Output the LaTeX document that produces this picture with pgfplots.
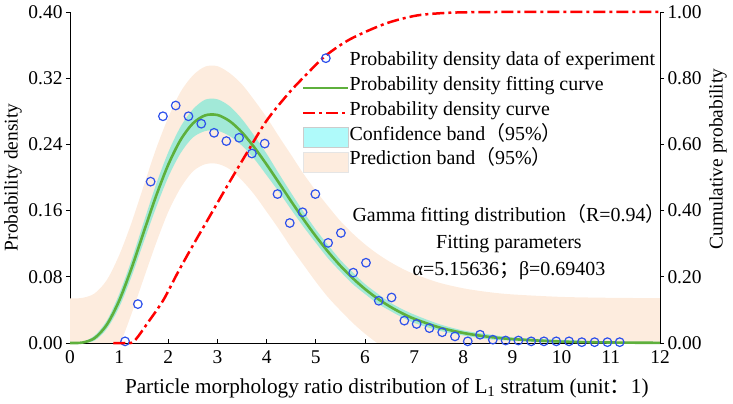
\documentclass[border=0pt]{standalone}
\usepackage{fontspec}
\setmainfont{Liberation Serif}
\newfontfamily\cjk{Noto Sans CJK SC}
\usepackage{pgfplots}
\pgfplotsset{compat=1.18}
\usepackage{pgfplotstable}
\usepgfplotslibrary{fillbetween}

\definecolor{peach}{RGB}{253,236,222}
\definecolor{mint}{RGB}{162,233,216}
\definecolor{cyanbox}{RGB}{175,250,250}
\definecolor{fitgreen}{RGB}{94,176,60}
\definecolor{ptblue}{RGB}{45,80,235}
\definecolor{cdfred}{RGB}{255,0,0}

\newcommand{\f}{\fontsize{19.5}{23}\selectfont}
\newcommand{\fl}{\fontsize{20}{23}\selectfont}

\pgfplotstableread{
x f cu cl pu pl
0 0 0.001 0 0.054 -0.054
0.25 0.0005 0.0015 0 0.0545 -0.0535
0.5 0.0059 0.0089 0.0029 0.0599 -0.048
0.75 0.0222 0.0272 0.0172 0.0762 -0.0318
1.0 0.0511 0.0591 0.0431 0.1061 -0.0039
1.25 0.0901 0.1001 0.0801 0.1451 0.0351
1.5 0.1341 0.1461 0.1221 0.1901 0.0781
1.75 0.1775 0.1915 0.1635 0.2345 0.1205
2.0 0.2157 0.2307 0.2007 0.2727 0.1587
2.25 0.2455 0.2615 0.2295 0.3035 0.1875
2.5 0.2654 0.2824 0.2484 0.3234 0.2074
2.75 0.2751 0.2941 0.2561 0.3341 0.2161
3.0 0.2755 0.2945 0.2565 0.3345 0.2165
3.25 0.2680 0.2860 0.2500 0.3260 0.2100
3.5 0.2544 0.2704 0.2384 0.3124 0.1964
3.75 0.2363 0.2503 0.2223 0.2933 0.1793
4.0 0.2156 0.2286 0.2026 0.2726 0.1586
4.25 0.1935 0.2045 0.1825 0.2495 0.1375
4.5 0.1711 0.1811 0.1611 0.2271 0.1151
4.75 0.1494 0.1584 0.1404 0.2044 0.0944
5.0 0.1290 0.1370 0.1210 0.1840 0.0740
5.25 0.1102 0.1182 0.1022 0.1652 0.0552
5.5 0.0933 0.1003 0.0863 0.1473 0.0393
5.75 0.0783 0.0853 0.0713 0.1323 0.0243
6.0 0.0652 0.0712 0.0592 0.1192 0.0112
6.25 0.0539 0.0599 0.0479 0.1079 -0.0001
6.5 0.0443 0.0493 0.0393 0.0983 -0.0097
6.75 0.0361 0.0411 0.0311 0.0901 -0.0179
7.0 0.0293 0.0343 0.0243 0.0833 -0.0247
7.5 0.0190 0.0230 0.0150 0.0730 -0.035
8.0 0.0121 0.0151 0.0091 0.0661 -0.042
8.5 0.0076 0.0106 0.0046 0.0616 -0.046
9 0.0047 0.0067 0.0027 0.0587 -0.049
10 0.0017 0.0037 0 0.0557 -0.052
11 0.0006 0.0016 0 0.0546 -0.053
12 0.0002 0.0012 0 0.0542 -0.054
}\bandtable

\pgfplotstableread{
x y
1.12 0.002
1.38 0.047
1.64 0.195
1.89 0.274
2.15 0.287
2.41 0.274
2.67 0.265
2.93 0.254
3.18 0.244
3.44 0.248
3.70 0.229
3.96 0.241
4.22 0.180
4.47 0.145
4.73 0.158
4.99 0.180
5.25 0.121
5.51 0.133
5.76 0.085
6.02 0.097
6.28 0.051
6.54 0.055
6.80 0.027
7.05 0.023
7.31 0.018
7.57 0.013
7.83 0.008
8.09 0.002
8.34 0.010
8.60 0.004
8.86 0.003
9.12 0.003
9.38 0.002
9.64 0.002
9.89 0.002
10.15 0.002
10.41 0.001
10.67 0.001
10.93 0.001
11.18 0.001
}\pointtable

\pgfplotstableread{
x y
0.88 0
1.1 0
1.3 0.005
1.6 0.065
1.9 0.13
2.2 0.215
2.5 0.295
2.8 0.372
3.2 0.475
3.6 0.575
4.0 0.672
4.45 0.755
4.8 0.81
5.2 0.868
5.7 0.918
6.4 0.964
7.0 0.988
7.5 0.996
8.0 0.999
8.7 1.0
12 1.0
}\cdftable

\begin{document}
\begin{tikzpicture}
\pgfplotsset{common/.style={scale only axis, width=590bp, height=331bp,
  xmin=0, xmax=12,
  /pgf/number format/assume math mode=true,
  tick label style={font=\f, black},
  major tick length=4bp,
  tick style={black, line width=0.8bp},
  axis line style={black, line width=0.8bp}}}

\begin{axis}[common, ymin=0, ymax=0.4,
  axis x line*=bottom, axis y line*=left, tick align=outside,
  xtick={0,1,2,3,4,5,6,7,8,9,10,11,12},
  ytick={0,0.08,0.16,0.24,0.32,0.40},
  yticklabel style={/pgf/number format/.cd, fixed, fixed zerofill, precision=2},
  every x tick/.append style={yshift=4bp},
  xlabel={Particle morphology ratio distribution of L\textsubscript{1} stratum (unit{\cjk ：}1)},
  ylabel={Probability density},
  every axis x label/.style={at={(axis description cs:0.537,0)}, anchor=base, yshift=-50bp, font=\fontsize{21.3}{24}\selectfont},
  every axis y label/.style={at={(axis description cs:-0.0966,0.5)}, anchor=center, rotate=90, font=\f}]
\addplot[draw=none, name path=pu, smooth] table[x=x,y=pu]{\bandtable};
\addplot[draw=none, name path=pl, smooth] table[x=x,y=pl]{\bandtable};
\addplot[fill=peach, draw=none] fill between[of=pu and pl];
\addplot[draw=none, name path=cu, smooth] table[x=x,y=cu]{\bandtable};
\addplot[draw=none, name path=cl, smooth] table[x=x,y=cl]{\bandtable};
\addplot[fill=mint, draw=none] fill between[of=cu and cl];
\end{axis}

\begin{axis}[common, ymin=0, ymax=0.4, axis lines=none, clip=false]
\addplot[fitgreen, line width=2.6bp, smooth] table[x=x,y=f]{\bandtable};
\addplot[only marks, mark=o, mark size=4.3bp, mark options={ptblue, line width=1.2bp}] table[x=x,y=y]{\pointtable};
\end{axis}

\begin{axis}[common, ymin=0, ymax=1,
  axis x line=none, axis y line*=right, tick align=outside, clip=false,
  ytick={0,0.2,0.4,0.6,0.8,1.0},
  yticklabel style={/pgf/number format/.cd, fixed, fixed zerofill, precision=2},
  ylabel={Cumulative probability},
  every axis y label/.style={at={(axis description cs:1.0983,0.556)}, anchor=center, rotate=90, font=\f},
  legend cell align=left,
  legend style={at={(axis description cs:0.393,0.8834)}, anchor=north west,
    draw=none, fill=none, font=\fl, inner sep=0pt, row sep=0pt,
    nodes={inner sep=0pt, text height=15bp, text depth=9.8bp},
    /tikz/every even column/.append style={column sep=7bp}}]
\addplot[cdfred, line width=2.5bp, dash pattern=on 12bp off 4bp on 3bp off 4bp, smooth, forget plot] table[x=x,y=y]{\cdftable};
\addlegendimage{legend image code/.code={\path[draw=none, fill=none] (0,-10bp) rectangle (45bp,10bp); \draw[ptblue, line width=1.2bp] (22.5bp,5bp) circle (4.3bp);}}
\addlegendentry{Probability density data of experiment}
\addlegendimage{legend image code/.code={\draw[fitgreen, line width=2.6bp] (0,0) -- (45bp,0);}}
\addlegendentry{Probability density fitting curve}
\addlegendimage{legend image code/.code={\draw[cdfred, line width=2.5bp, dash pattern=on 12bp off 4bp on 3bp off 4bp] (0,0) -- (45bp,0);}}
\addlegendentry{Probability density curve}
\addlegendimage{legend image code/.code={\draw[fill=cyanbox, draw=black!20, line width=0.6bp] (0,-10bp) rectangle (45bp,10bp);}}
\addlegendentry{Confidence band{\cjk （}95\%{\cjk ）}}
\addlegendimage{legend image code/.code={\draw[fill=peach, draw=black!10, line width=0.6bp] (0,-10bp) rectangle (45bp,10bp);}}
\addlegendentry{Prediction band{\cjk （}95\%{\cjk ）}}
\node[align=center, font=\fontsize{20}{27}\selectfont] at (rel axis cs:0.744,0.305)
  {Gamma fitting distribution{\cjk （}R=0.94{\cjk ）}\\Fitting parameters\\α=5.15636{\cjk ；}β=0.69403};
\end{axis}
\pgfresetboundingbox
\path[use as bounding box] (-70bp,-61bp) rectangle (663bp,343bp);
\end{tikzpicture}
\end{document}
